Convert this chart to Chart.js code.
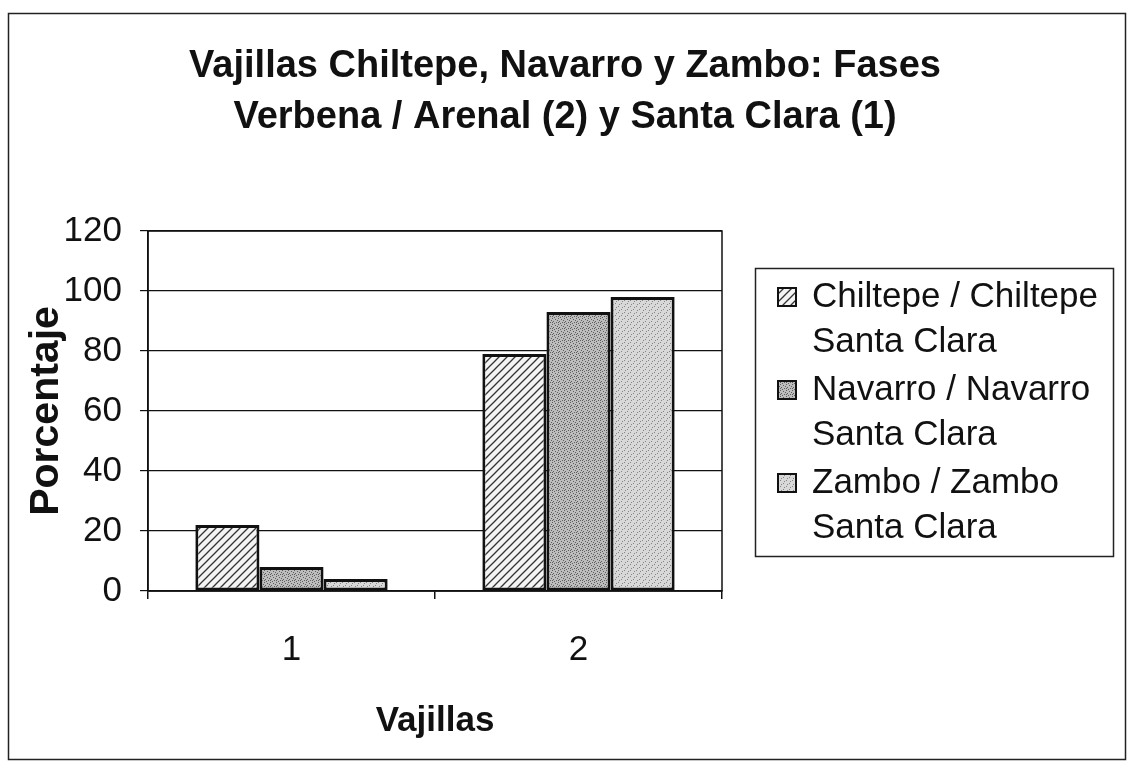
<!DOCTYPE html>
<html>
<head>
<meta charset="utf-8">
<script src="https://cdn.jsdelivr.net/npm/chart.js@4/dist/chart.umd.min.js"></script>
<style>
  html, body { margin: 0; padding: 0; background: #fff; }
  #wrap { width: 1128px; height: 768px; position: relative; }
</style>
</head>
<body>
<div id="wrap"><canvas id="c" width="1128" height="768"></canvas></div>
<script>
const categories = ['1', '2'];
const seriesNames = ['Chiltepe / Chiltepe Santa Clara', 'Navarro / Navarro Santa Clara', 'Zambo / Zambo Santa Clara'];
const chiltepe = [22, 79];
const navarro = [8, 93];
const zambo = [4, 98];
const titleLines = ['Vajillas Chiltepe, Navarro y Zambo: Fases', 'Verbena / Arenal (2) y Santa Clara (1)'];
const yTitle = 'Porcentaje';
const xTitle = 'Vajillas';

const FONT = '"Liberation Sans", Arial, sans-serif';

function hatchPattern() {
  const s = 8;
  const c = document.createElement('canvas');
  c.width = s; c.height = s;
  const g = c.getContext('2d');
  g.fillStyle = '#f4f4f4';
  g.fillRect(0, 0, s, s);
  g.strokeStyle = '#333';
  g.lineWidth = 1.3;
  g.beginPath();
  g.moveTo(0, s); g.lineTo(s, 0);
  g.moveTo(-s / 2, s / 2); g.lineTo(s / 2, -s / 2);
  g.moveTo(s / 2, s * 1.5); g.lineTo(s * 1.5, s / 2);
  g.stroke();
  return g.createPattern(c, 'repeat');
}
function stipplePattern(bg, dots, dotColor) {
  const s = 6;
  const c = document.createElement('canvas');
  c.width = s; c.height = s;
  const g = c.getContext('2d');
  g.fillStyle = bg;
  g.fillRect(0, 0, s, s);
  g.fillStyle = dotColor;
  dots.forEach(d => g.fillRect(d[0], d[1], 1, 1));
  return g.createPattern(c, 'repeat');
}
const patChiltepe = hatchPattern();
const patNavarro = stipplePattern('#bdbdbd', [[0,0],[3,1],[1,3],[4,4],[2,5],[5,2],[0,4]], '#5e5e5e');
const patZambo = stipplePattern('#d8d8d8', [[0,0],[3,3],[1,4],[4,1]], '#858585');

const frame = {
  id: 'frame',
  beforeDraw(chart) {
    const ctx = chart.ctx;
    ctx.save();
    ctx.fillStyle = '#fff';
    ctx.fillRect(0, 0, chart.width, chart.height);
    ctx.strokeStyle = '#222';
    ctx.lineWidth = 1.5;
    ctx.strokeRect(8.5, 13.5, 1117, 746);
    ctx.fillStyle = '#111';
    ctx.font = 'bold 38px ' + FONT;
    ctx.textAlign = 'center';
    ctx.textBaseline = 'middle';
    titleLines.forEach((t, i) => ctx.fillText(t, 565, 67 + i * 51));
    ctx.restore();
  },
  afterDatasetsDraw(chart) {
    const a = chart.chartArea;
    const ctx = chart.ctx;
    ctx.save();
    ctx.strokeStyle = '#111';
    ctx.lineWidth = 1.5;
    ctx.strokeRect(a.left, a.top, a.right - a.left, a.bottom - a.top);
    ctx.restore();
  }
};

function wrap(ctx, text, maxW) {
  const words = text.split(' ');
  const lines = [];
  let cur = '';
  words.forEach(w => {
    const t = cur ? cur + ' ' + w : w;
    if (ctx.measureText(t).width > maxW && cur) { lines.push(cur); cur = w; }
    else cur = t;
  });
  if (cur) lines.push(cur);
  return lines;
}

const legendBox = {
  id: 'legendBox',
  afterDraw(chart) {
    const ctx = chart.ctx;
    const x0 = 755, y0 = 268, w = 358, h = 288;
    ctx.save();
    ctx.fillStyle = '#fff';
    ctx.fillRect(x0, y0, w, h);
    ctx.strokeStyle = '#222';
    ctx.lineWidth = 1.5;
    ctx.strokeRect(x0 + 0.5, y0 + 0.5, w, h);
    ctx.font = '35px ' + FONT;
    ctx.fillStyle = '#111';
    ctx.textBaseline = 'middle';
    let y = 297;
    const lh = 45;
    chart.data.datasets.forEach(ds => {
      const lines = wrap(ctx, ds.label, 295);
      ctx.fillStyle = ds.backgroundColor;
      ctx.fillRect(778, y - 9, 18, 18);
      ctx.strokeStyle = '#111';
      ctx.lineWidth = 2;
      ctx.strokeRect(778, y - 9, 18, 18);
      ctx.fillStyle = '#111';
      lines.forEach((ln, i) => {
        ctx.fillText(ln, 812, y + i * lh);
      });
      y += lines.length * lh + 3;
    });
    ctx.restore();
  }
};

const datasets = [
  { label: seriesNames[0], data: chiltepe, backgroundColor: patChiltepe },
  { label: seriesNames[1], data: navarro, backgroundColor: patNavarro },
  { label: seriesNames[2], data: zambo, backgroundColor: patZambo }
].map(d => Object.assign(d, {
  borderColor: '#111', borderWidth: 3, borderSkipped: false,
  barPercentage: 1.0, categoryPercentage: 0.67
}));

new Chart(document.getElementById('c'), {
  type: 'bar',
  data: { labels: categories, datasets },
  plugins: [frame, legendBox],
  options: {
    responsive: false,
    animation: false,
    devicePixelRatio: 1,
    layout: { padding: { left: 22, right: 406, top: 231, bottom: 26 } },
    plugins: {
      legend: { display: false },
      tooltip: { enabled: false },
      title: { display: false }
    },
    scales: {
      x: {
        grid: { display: true, offset: true, drawOnChartArea: false, drawTicks: true, tickLength: 8, color: '#111', lineWidth: 1.5 },
        border: { display: true, color: '#111', width: 1.5 },
        ticks: { color: '#111', font: { family: FONT, size: 35 }, padding: 30 },
        title: { display: true, text: xTitle, color: '#111', font: { family: FONT, size: 35, weight: 'bold' }, padding: { top: 20, bottom: 0 } },
        afterFit(s) { s.height = 768 - 26 - 591; }
      },
      y: {
        min: 0, max: 120,
        ticks: { stepSize: 20, color: '#111', font: { family: FONT, size: 35 }, padding: 18 },
        grid: { color: '#111', lineWidth: 1.2, tickLength: 8, drawTicks: true },
        border: { display: true, color: '#111', width: 1.5 },
        title: { display: true, text: yTitle, color: '#111', font: { family: FONT, size: 41, weight: 'bold' }, padding: { top: 0, bottom: 0 } },
        afterFit(s) { s.width = 148 - 22; }
      }
    }
  }
});
</script>
</body>
</html>
